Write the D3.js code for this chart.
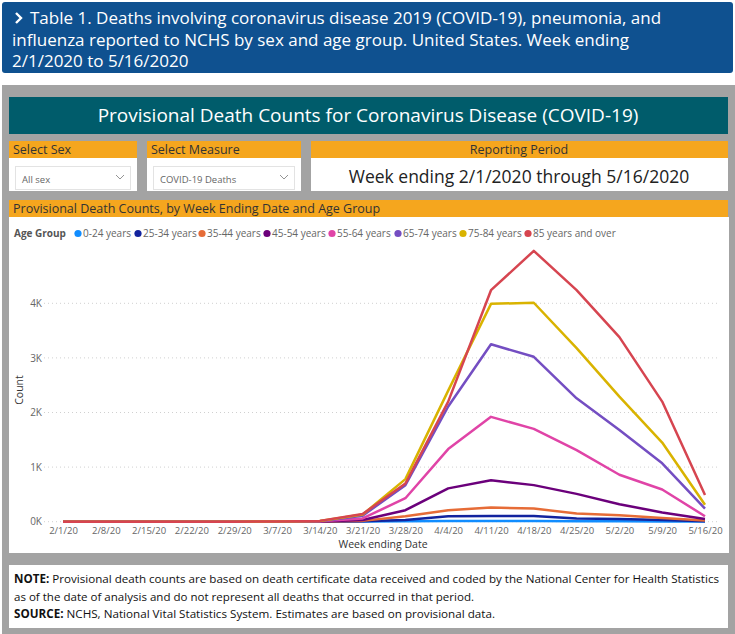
<!DOCTYPE html>
<html>
<head>
<meta charset="utf-8">
<script src="https://cdn.jsdelivr.net/npm/d3@7"></script>
<style>
  body { margin: 0; background: #fff; }
  svg { display: block; font-family: "Open Sans", "Noto Sans", sans-serif; }
</style>
</head>
<body>
<svg id="chart" width="735" height="634"></svg>
<script>
// week ending dates (x categories)
let weeks = ["2/1/20", "2/8/20", "2/15/20", "2/22/20", "2/29/20", "3/7/20", "3/14/20", "3/21/20",
  "3/28/20", "4/4/20", "4/11/20", "4/18/20", "4/25/20", "5/2/20", "5/9/20", "5/16/20"];

let ageGroups = ["0-24 years", "25-34 years", "35-44 years", "45-54 years", "55-64 years",
  "65-74 years", "75-84 years", "85 years and over"];

let ageColors = ["#118DFF", "#12239E", "#E66C37", "#6B007B", "#E044A7", "#744EC2", "#D9B300", "#D64550"];

// deaths per week
let age0to24 = [0, 0, 0, 0, 0, 0, 0, 2, 6, 12, 15, 14, 10, 8, 5, 2];
let age25to34 = [0, 0, 0, 0, 0, 0, 1, 6, 30, 100, 105, 105, 60, 50, 30, 10];
let age35to44 = [0, 0, 0, 0, 0, 0, 2, 15, 100, 210, 260, 240, 150, 120, 70, 20];
let age45to54 = [0, 0, 0, 0, 0, 1, 3, 30, 210, 610, 760, 670, 510, 320, 170, 50];
let age55to64 = [0, 0, 0, 0, 0, 2, 6, 60, 430, 1330, 1920, 1700, 1310, 860, 590, 100];
let age65to74 = [0, 0, 0, 0, 1, 3, 10, 110, 670, 2110, 3250, 3020, 2260, 1680, 1070, 240];
let age75to84 = [0, 0, 0, 0, 1, 4, 14, 130, 780, 2400, 3990, 4010, 3180, 2290, 1450, 310];
let age85plus = [0, 0, 0, 0, 1, 4, 15, 140, 700, 2200, 4240, 4960, 4240, 3380, 2200, 490];

let yTicks = [0, 1000, 2000, 3000, 4000];

let seriesValues = [age0to24, age25to34, age35to44, age45to54, age55to64, age65to74, age75to84, age85plus];

let svg = d3.select("#chart");

// ---- header ----
svg.append("rect").attr("x", 2).attr("y", 2).attr("width", 731).attr("height", 71)
  .attr("rx", 3).attr("fill", "#0f5190");
let headerLines = [
  "Table 1. Deaths involving coronavirus disease 2019 (COVID-19), pneumonia, and",
  "influenza reported to NCHS by sex and age group. United States. Week ending",
  "2/1/2020 to 5/16/2020"
];
// chevron
svg.append("path").attr("d", "M16,13 L21,18 L16,23")
  .attr("fill", "none").attr("stroke", "#fff").attr("stroke-width", 2.4);
headerLines.forEach((line, i) => {
  svg.append("text")
    .attr("x", i == 0 ? 30 : 12)
    .attr("y", 24 + i * 21.5)
    .attr("fill", "#fff")
    .attr("font-size", 17)
    .text(line);
});

// ---- gray dashboard panel ----
svg.append("rect").attr("x", 2).attr("y", 85).attr("width", 733).attr("height", 549).attr("fill", "#a3a3a3");

// teal title
svg.append("rect").attr("x", 9).attr("y", 97).attr("width", 719).attr("height", 37).attr("fill", "#005c6b");
svg.append("text").attr("x", 368).attr("y", 122).attr("text-anchor", "middle")
  .attr("fill", "#fff").attr("font-size", 19).text("Provisional Death Counts for Coronavirus Disease (COVID-19)");

// slicers
let orange = "#f5a61e";
let slicers = [
  { label: "Select Sex", x: 9, w: 128, value: "All sex" },
  { label: "Select Measure", x: 147, w: 154, value: "COVID-19 Deaths" }
];
slicers.forEach((s) => {
  svg.append("rect").attr("x", s.x).attr("y", 141).attr("width", s.w).attr("height", 17).attr("fill", orange);
  svg.append("text").attr("x", s.x + 4).attr("y", 154).attr("font-size", 12.5).attr("fill", "#333").text(s.label);
  svg.append("rect").attr("x", s.x).attr("y", 158).attr("width", s.w).attr("height", 33).attr("fill", "#fff");
  svg.append("rect").attr("x", s.x + 6.5).attr("y", 166.5).attr("width", s.w - 13).attr("height", 23)
    .attr("fill", "#fff").attr("stroke", "#e3e3e3");
  svg.append("text").attr("x", s.x + 13).attr("y", 182.5).attr("font-size", 9.5).attr("fill", "#666").text(s.value);
  let cx = s.x + s.w - 17;
  svg.append("path").attr("d", `M${cx - 4},175 L${cx},179 L${cx + 4},175`)
    .attr("fill", "none").attr("stroke", "#888").attr("stroke-width", 0.9);
});

// reporting period
svg.append("rect").attr("x", 311).attr("y", 141).attr("width", 417).attr("height", 17).attr("fill", orange);
svg.append("text").attr("x", 519).attr("y", 154).attr("text-anchor", "middle").attr("font-size", 12.5)
  .attr("fill", "#333").text("Reporting Period");
svg.append("rect").attr("x", 311).attr("y", 158).attr("width", 417).attr("height", 33).attr("fill", "#fff");
svg.append("text").attr("x", 519).attr("y", 183).attr("text-anchor", "middle").attr("font-size", 17.5)
  .attr("fill", "#222").text("Week ending 2/1/2020 through 5/16/2020");

// chart visual
svg.append("rect").attr("x", 9).attr("y", 200).attr("width", 719).attr("height", 17).attr("fill", orange);
svg.append("text").attr("x", 13).attr("y", 213).attr("font-size", 12.5).attr("fill", "#333")
  .text("Provisional Death Counts, by Week Ending Date and Age Group");
svg.append("rect").attr("x", 9).attr("y", 217).attr("width", 720).attr("height", 336).attr("fill", "#fff");

// legend
svg.append("text").attr("x", 14).attr("y", 237).attr("font-size", 10).attr("font-weight", "bold")
  .attr("fill", "#555").text("Age Group");
let legendX = [78, 138, 202, 267, 332, 398, 463, 528];
ageGroups.forEach((g, i) => {
  svg.append("circle").attr("cx", legendX[i]).attr("cy", 233.5).attr("r", 3.6).attr("fill", ageColors[i]);
  svg.append("text").attr("x", legendX[i] + 5).attr("y", 237).attr("font-size", 10).attr("fill", "#666").text(g);
});

// scales
let x = d3.scalePoint().domain(weeks).range([63, 705]);
let y = d3.scaleLinear().domain([0, 5000]).range([521.7, 248.7]);

// grid
svg.append("g").selectAll("line").data(yTicks).join("line")
  .attr("x1", 44).attr("x2", 720)
  .attr("y1", (d) => y(d)).attr("y2", (d) => y(d))
  .attr("stroke", "#d0d0d0").attr("stroke-dasharray", "1,3");

// y axis
let yAxis = svg.append("g").attr("transform", "translate(42,0)")
  .call(d3.axisLeft(y).tickValues(yTicks).tickSize(0).tickPadding(0).tickFormat((d) => d / 1000 + "K"));
yAxis.select(".domain").remove();
yAxis.selectAll("text").attr("font-size", 10).attr("fill", "#666").attr("font-family", "Open Sans");

svg.append("text").attr("transform", "translate(23,390) rotate(-90)").attr("text-anchor", "middle")
  .attr("font-size", 10.5).attr("fill", "#333").text("Count");

// x axis
let xAxis = svg.append("g").attr("transform", "translate(0,525)")
  .call(d3.axisBottom(x).tickSize(0).tickPadding(2));
xAxis.select(".domain").remove();
xAxis.selectAll("text").attr("font-size", 9.5).attr("fill", "#666").attr("font-family", "Open Sans");

svg.append("text").attr("x", 383).attr("y", 548).attr("text-anchor", "middle")
  .attr("font-size", 10.5).attr("fill", "#333").text("Week ending Date");

// lines
let line = d3.line().x((d, i) => x(weeks[i])).y((d) => y(d));
svg.append("g").selectAll("path").data(seriesValues).join("path")
  .attr("d", line)
  .attr("fill", "none")
  .attr("stroke", (d, i) => ageColors[i])
  .attr("stroke-width", 2.5)
  .attr("stroke-linejoin", "round");

// note box
svg.append("rect").attr("x", 9).attr("y", 565).attr("width", 719).attr("height", 63).attr("fill", "#fff");
let note = svg.append("g").attr("font-size", 11.5).attr("fill", "#111");
let t1 = note.append("text").attr("x", 14).attr("y", 583)
  .attr("textLength", 705).attr("lengthAdjust", "spacingAndGlyphs");
t1.append("tspan").attr("font-weight", "bold").text("NOTE:");
t1.append("tspan").text(" Provisional death counts are based on death certificate data received and coded by the National Center for Health Statistics");
note.append("text").attr("x", 14).attr("y", 601)
  .attr("textLength", 460).attr("lengthAdjust", "spacingAndGlyphs")
  .text("as of the date of analysis and do not represent all deaths that occurred in that period.");
let t3 = note.append("text").attr("x", 14).attr("y", 618)
  .attr("textLength", 481).attr("lengthAdjust", "spacingAndGlyphs");
t3.append("tspan").attr("font-weight", "bold").text("SOURCE:");
t3.append("tspan").text(" NCHS, National Vital Statistics System. Estimates are based on provisional data.");
</script>
</body>
</html>
